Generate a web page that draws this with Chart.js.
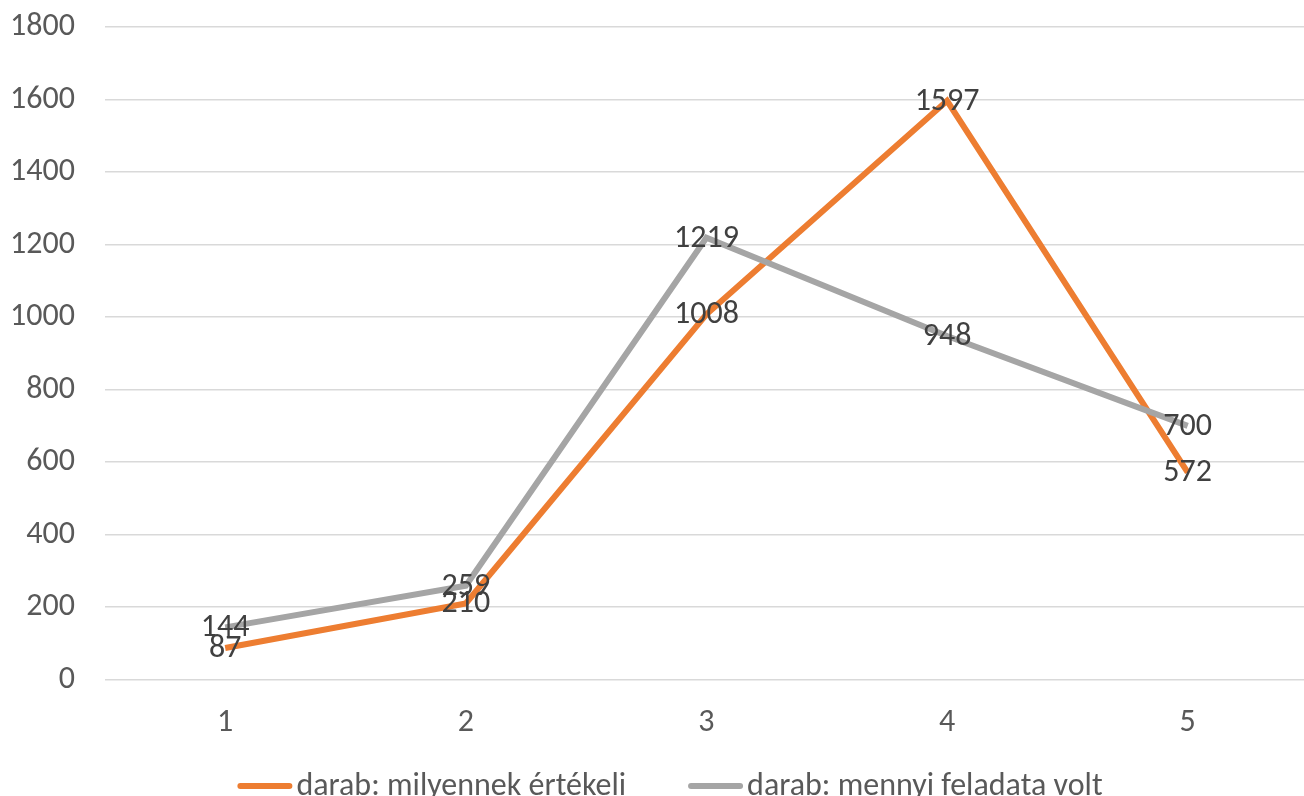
<!DOCTYPE html>
<html>
<head>
<meta charset="utf-8">
<script src="https://cdn.jsdelivr.net/npm/chart.js@4/dist/chart.umd.min.js"></script>
<style>
  html, body { margin: 0; padding: 0; background: #fff; overflow: hidden; }
  #wrap { width: 1308px; height: 818px; margin-top: -22px; }
</style>
</head>
<body>
<div id="wrap"><canvas id="lineChart"></canvas></div>
<script>
var categories = ['1', '2', '3', '4', '5'];
var ertekeli = [87, 210, 1008, 1597, 572];
var feladata = [144, 259, 1219, 948, 700];
var seriesNames = ['darab: milyennek értékeli', 'darab: mennyi feladata volt'];
var seriesColors = ['#ED7D31', '#A5A5A5'];

var fontFamily = "Carlito, 'Liberation Sans', 'Open Sans', sans-serif";
var fontSize = 32;

// labels centred on each point, like the spreadsheet original
var pointLabels = {
    id: 'pointLabels',
    afterDatasetsDraw: function (chart) {
        var ctx = chart.ctx;
        ctx.save();
        ctx.font = fontSize + 'px ' + fontFamily;
        ctx.fillStyle = '#404040';
        ctx.textAlign = 'center';
        ctx.textBaseline = 'middle';
        chart.data.datasets.forEach(function (ds, i) {
            chart.getDatasetMeta(i).data.forEach(function (pt, j) {
                ctx.fillText(String(ds.data[j]), pt.x, pt.y + 1);
            });
        });
        ctx.restore();
    }
};

// bottom legend: short line + label for each series
var bottomLegend = {
    id: 'bottomLegend',
    afterDraw: function (chart) {
        var ctx = chart.ctx;
        var lineW = 55, gapText = 4, gapItems = 62;
        ctx.save();
        ctx.font = fontSize + 'px ' + fontFamily;
        var widths = chart.data.datasets.map(function (ds) {
            return lineW + gapText + ctx.measureText(ds.label).width;
        });
        var total = widths[0] + gapItems + widths[1];
        var x = chart.width / 2 + 16 - total / 2;
        var y = chart.scales.x.bottom + 28;
        chart.data.datasets.forEach(function (ds, i) {
            ctx.strokeStyle = ds.borderColor;
            ctx.lineWidth = 6;
            ctx.lineCap = 'round';
            ctx.beginPath();
            ctx.moveTo(x + 3, y);
            ctx.lineTo(x + lineW - 3, y);
            ctx.stroke();
            ctx.fillStyle = '#595959';
            ctx.textAlign = 'left';
            ctx.textBaseline = 'middle';
            ctx.fillText(ds.label, x + lineW + gapText, y + 1);
            x += widths[i] + gapItems;
        });
        ctx.restore();
    }
};

document.addEventListener("DOMContentLoaded", function () {
    var ctx = document.getElementById('lineChart').getContext('2d');
    new Chart(ctx, {
        type: 'line',
        data: {
            labels: categories,
            datasets: [{
                label: seriesNames[0],
                data: ertekeli,
                borderColor: seriesColors[0],
                backgroundColor: seriesColors[0],
                borderWidth: 6,
                pointRadius: 0,
                tension: 0,
                order: 2
            }, {
                label: seriesNames[1],
                data: feladata,
                borderColor: seriesColors[1],
                backgroundColor: seriesColors[1],
                borderWidth: 6,
                pointRadius: 0,
                tension: 0,
                order: 1
            }]
        },
        options: {
            responsive: true,
            maintainAspectRatio: false,
            animation: false,
            layout: { padding: { top: 0, left: -20, right: 0, bottom: 38 } },
            plugins: {
                legend: { display: false },
                tooltip: { enabled: false }
            },
            scales: {
                x: {
                    offset: true,
                    grid: { display: false },
                    border: { display: false },
                    ticks: {
                        font: { family: fontFamily, size: fontSize },
                        color: '#595959',
                        padding: 16
                    }
                },
                y: {
                    min: 0,
                    max: 1800,
                    grid: { color: '#D9D9D9', lineWidth: 1.5, drawTicks: false },
                    border: { display: false },
                    ticks: {
                        stepSize: 200,
                        font: { family: fontFamily, size: fontSize },
                        color: '#595959',
                        padding: 30,
                        callback: function (v) { return String(v); }
                    }
                }
            }
        },
        plugins: [pointLabels, bottomLegend]
    });
});
</script>
</body>
</html>
